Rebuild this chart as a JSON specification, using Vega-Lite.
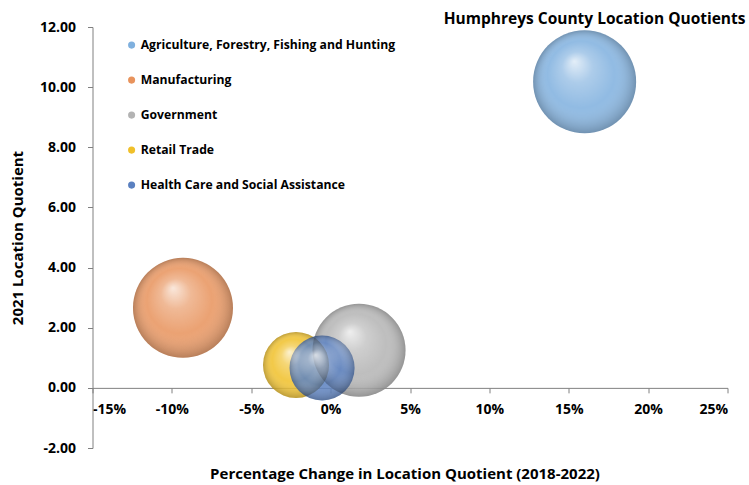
{
  "$schema": "https://vega.github.io/schema/vega-lite/v6.json",
  "width": 635,
  "height": 421,
  "autosize": {"type": "none"},
  "padding": {"left": 92.5, "top": 27, "right": 21.5, "bottom": 37},
  "background": "white",
  "title": {
    "text": "Humphreys County Location Quotients",
    "anchor": "end",
    "frame": "group",
    "dx": 18,
    "offset": -7,
    "font": "Open Sans",
    "fontSize": 15.5,
    "fontWeight": "bold",
    "color": "#000000"
  },
  "config": {
    "view": {"stroke": null},
    "locale": {"number": {"decimal": ".", "thousands": ",", "grouping": [3], "currency": ["$", ""], "minus": "-"}},
    "axis": {
      "grid": false,
      "labelFont": "Open Sans",
      "labelFontWeight": "bold",
      "labelFontSize": 14,
      "labelColor": "#000000",
      "titleFont": "Open Sans",
      "titleFontWeight": "bold",
      "titleFontSize": 15,
      "titleColor": "#000000",
      "domainColor": "#808080",
      "tickColor": "#808080",
      "tickSize": 5,
      "domainWidth": 1,
      "tickWidth": 1
    }
  },
  "data": {
    "values": [
      {"Industry": "Agriculture, Forestry, Fishing and Hunting", "Change": 0.16, "LQ": 10.18, "Bubble Size": 106.1},
      {"Industry": "Manufacturing", "Change": -0.093, "LQ": 2.66, "Bubble Size": 100},
      {"Industry": "Government", "Change": 0.0179, "LQ": 1.25, "Bubble Size": 86.5},
      {"Industry": "Retail Trade", "Change": -0.0218, "LQ": 0.76, "Bubble Size": 43.6},
      {"Industry": "Health Care and Social Assistance", "Change": -0.0054, "LQ": 0.66, "Bubble Size": 42.3}
    ]
  },
  "encoding": {
    "x": {
      "field": "Change",
      "type": "quantitative",
      "scale": {"domain": [-0.15, 0.25], "nice": false, "zero": false},
      "axis": {
        "title": "Percentage Change in Location Quotient (2018-2022)",
        "values": [-0.15, -0.1, -0.05, 0, 0.05, 0.1, 0.15, 0.2, 0.25],
        "format": ".0%",
        "offset": -60.14,
        "labelPadding": 10,
        "titleY": 86,
        "titleX": 312,
        "titleBaseline": "middle"
      }
    },
    "y": {
      "field": "LQ",
      "type": "quantitative",
      "scale": {"domain": [-2, 12], "nice": false, "zero": false},
      "axis": {
        "title": "2021 Location Quotient",
        "values": [-2, 0, 2, 4, 6, 8, 10, 12],
        "format": ".2f",
        "labelPadding": 12,
        "titleX": -75.5,
        "titleBaseline": "middle"
      }
    },
    "size": {
      "field": "Bubble Size",
      "type": "quantitative",
      "scale": {"domain": [0, 100], "range": [0, 10000], "zero": true},
      "legend": null
    }
  },
  "layer": [
    {
      "mark": {"type": "circle", "opacity": 0.86},
      "encoding": {
        "color": {
          "field": "Industry",
          "type": "nominal",
          "scale": {
            "domain": ["Agriculture, Forestry, Fishing and Hunting", "Manufacturing", "Government", "Retail Trade", "Health Care and Social Assistance"],
            "range": ["#7FB0DE", "#E8935C", "#B3B3B3", "#F0C02A", "#5A80C0"]
          },
          "legend": {
            "title": null,
            "orient": "none",
            "legendX": 33,
            "legendY": 12,
            "symbolType": "circle",
            "symbolSize": 50,
            "symbolOpacity": 1,
            "labelFont": "Open Sans",
            "labelFontWeight": "bold",
            "labelFontSize": 12.2,
            "labelColor": "#000000",
            "labelOffset": 3,
            "labelLimit": 400,
            "rowPadding": 22
          }
        }
      }
    },
    {
      "mark": {
        "type": "circle",
        "opacity": 1,
        "fill": {
          "gradient": "radial",
          "x1": 0.4, "y1": 0.3, "r1": 0,
          "x2": 0.5, "y2": 0.5, "r2": 0.5,
          "stops": [
            {"offset": 0, "color": "rgba(255,255,255,0.75)"},
            {"offset": 0.3, "color": "rgba(255,255,255,0.25)"},
            {"offset": 0.65, "color": "rgba(255,255,255,0)"},
            {"offset": 1, "color": "rgba(0,0,0,0.22)"}
          ]
        }
      }
    }
  ]
}
